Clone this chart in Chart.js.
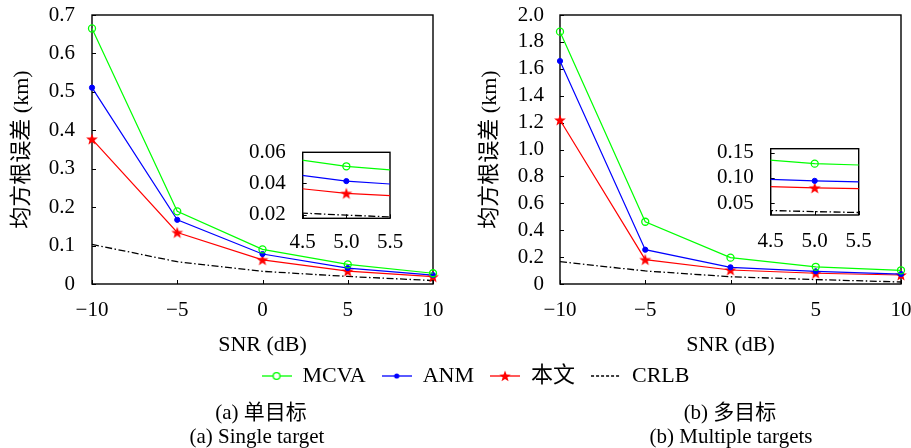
<!DOCTYPE html>
<html><head><meta charset="utf-8">
<script src="https://cdn.jsdelivr.net/npm/chart.js@4.4.1/dist/chart.umd.min.js"></script>
<style>
html,body{margin:0;padding:0;background:#fff;}
#wrap{position:relative;width:911px;height:448px;overflow:hidden;background:#fff;font-family:'Liberation Serif','Noto Sans CJK SC',serif;}
canvas{position:absolute;}
.cap{position:absolute;font-size:21px;line-height:24px;white-space:nowrap;transform:translateX(-50%);color:#000;}
</style></head><body>
<div id="wrap">
<canvas id="mainA" width="455" height="360" style="left:0;top:0"></canvas>
<canvas id="mainB" width="456" height="360" style="left:455px;top:0"></canvas>
<canvas id="insetA" width="180" height="115" style="left:240px;top:140px"></canvas>
<canvas id="insetB" width="185" height="120" style="left:705px;top:135px"></canvas>
<canvas id="legend" width="911" height="110" style="left:0;top:330px"></canvas>
<div class="cap" style="left:261px;top:400px">(a) 单目标</div>
<div class="cap" style="left:257px;top:424px">(a) Single target</div>
<div class="cap" style="left:730px;top:400px">(b) 多目标</div>
<div class="cap" style="left:731px;top:424px">(b) Multiple targets</div>
</div>
<script>
// ---- data ----
const snr = [-10, -5, 0, 5, 10];
const seriesNames = ['MCVA', 'ANM', '本文', 'CRLB'];
const singleMCVA = [0.665, 0.189, 0.090, 0.051, 0.028];
const singleANM  = [0.511, 0.167, 0.078, 0.0415, 0.023];
const singleOurs = [0.377, 0.134, 0.063, 0.0336, 0.019];
const singleCRLB = [0.103, 0.058, 0.033, 0.0196, 0.009];
const multiMCVA = [1.876, 0.463, 0.196, 0.128, 0.102];
const multiANM  = [1.658, 0.255, 0.124, 0.094, 0.074];
const multiOurs = [1.219, 0.181, 0.104, 0.080, 0.067];
const multiCRLB = [0.166, 0.097, 0.054, 0.033, 0.015];
const xTickValues = [-10, -5, 0, 5, 10];
const xTickLabels = ['\u221210', '\u22125', '0', '5', '10'];
const singleYTicks = [0, 0.1, 0.2, 0.3, 0.4, 0.5, 0.6, 0.7];
const singleYLabels = ['0', '0.1', '0.2', '0.3', '0.4', '0.5', '0.6', '0.7'];
const multiYTicks = [0, 0.2, 0.4, 0.6, 0.8, 1.0, 1.2, 1.4, 1.6, 1.8, 2.0];
const multiYLabels = ['0', '0.2', '0.4', '0.6', '0.8', '1.0', '1.2', '1.4', '1.6', '1.8', '2.0'];
const insetXTicks = [4.5, 5.0, 5.5];
const insetXLabels = ['4.5', '5.0', '5.5'];
const insetSingleYTicks = [0.02, 0.04, 0.06];
const insetSingleYLabels = ['0.02', '0.04', '0.06'];
const insetMultiYTicks = [0.05, 0.10, 0.15];
const insetMultiYLabels = ['0.05', '0.10', '0.15'];

// ---- styles ----
const GREEN = '#00ff00', BLUE = '#0000ff', RED = '#ff0000', BLACK = '#000000';
const FONT = "'Liberation Serif','Noto Sans CJK SC',serif";
Chart.defaults.font.family = FONT;
Chart.defaults.font.size = 21;
Chart.defaults.color = '#000';

function starPath(ctx, cx, cy, ro, ri) {
  ctx.beginPath();
  for (let k = 0; k < 10; k++) {
    const r = k % 2 === 0 ? ro : ri;
    const a = -Math.PI / 2 + k * Math.PI / 5;
    const px = cx + r * Math.cos(a), py = cy + r * Math.sin(a);
    if (k === 0) ctx.moveTo(px, py); else ctx.lineTo(px, py);
  }
  ctx.closePath();
}
const starImg = document.createElement('canvas');
starImg.width = 14; starImg.height = 14;
(function () { const c = starImg.getContext('2d'); c.fillStyle = RED; starPath(c, 7, 7.5, 6.2, 2.6); c.fill(); })();

function legendIcon(i) {
  const cv = document.createElement('canvas');
  cv.width = 30; cv.height = 14;
  const c = cv.getContext('2d');
  c.lineWidth = 1.3;
  if (i === 3) { c.strokeStyle = BLACK; c.setLineDash([3, 2]); }
  else c.strokeStyle = [GREEN, BLUE, RED][i];
  c.beginPath(); c.moveTo(0, 7); c.lineTo(30, 7); c.stroke();
  c.setLineDash([]);
  if (i === 0) { c.fillStyle = '#fff'; c.beginPath(); c.arc(15, 7, 3.4, 0, Math.PI * 2); c.fill(); c.stroke(); }
  if (i === 1) { c.fillStyle = BLUE; c.beginPath(); c.arc(15, 7, 2.6, 0, Math.PI * 2); c.fill(); }
  if (i === 2) { c.fillStyle = RED; starPath(c, 15, 7.5, 6, 2.5); c.fill(); }
  return cv;
}
const legendIcons = [0, 1, 2, 3].map(legendIcon);

function pts(ys) { return snr.map((x, i) => ({ x: x, y: ys[i] })); }
function makeDatasets(m, a, o, c, clip) {
  return [
    { label: seriesNames[0], data: pts(m), borderColor: GREEN, borderWidth: 1.2, pointStyle: 'circle', pointRadius: 3.5,
      pointBorderWidth: 1.3, pointBorderColor: GREEN, pointBackgroundColor: 'rgba(255,255,255,0)', clip: clip },
    { label: seriesNames[1], data: pts(a), borderColor: BLUE, borderWidth: 1.2, pointStyle: 'circle', pointRadius: 2.6,
      pointBorderWidth: 1, pointBorderColor: BLUE, pointBackgroundColor: BLUE, clip: clip },
    { label: seriesNames[2], data: pts(o), borderColor: RED, borderWidth: 1.2, pointStyle: starImg, pointRadius: 6, clip: clip },
    { label: seriesNames[3], data: pts(c), borderColor: BLACK, borderWidth: 1.3, borderDash: [7, 2.5, 1.5, 2.5], pointRadius: 0, clip: clip }
  ];
}

const framePlugin = {
  id: 'frame',
  beforeDatasetsDraw(chart) {
    const { ctx, chartArea: { left, right, top, bottom }, scales: { x, y } } = chart;
    ctx.save();
    ctx.strokeStyle = '#000'; ctx.lineWidth = 1;
    ctx.beginPath();
    x.ticks.forEach(t => { const px = Math.round(x.getPixelForValue(t.value)) + 0.5; ctx.moveTo(px, bottom); ctx.lineTo(px, bottom - 4); });
    y.ticks.forEach(t => { const py = Math.round(y.getPixelForValue(t.value)) + 0.5; ctx.moveTo(left, py); ctx.lineTo(left + 4, py); });
    ctx.stroke();
    ctx.lineWidth = 1.4;
    ctx.strokeRect(left, top, right - left, bottom - top);
    ctx.restore();
  }
};

function zeroPad(s) { s.paddingLeft = 0; s.paddingRight = 0; s.paddingTop = 0; s.paddingBottom = 0; }
const noGrid = { display: false, drawTicks: false, tickLength: 0 };

function makeMain(id, ds, yMax, yTicks, yLabels, cfg) {
  new Chart(document.getElementById(id), {
    type: 'line',
    data: { datasets: ds },
    options: {
      responsive: false, animation: false, devicePixelRatio: 1,
      layout: { padding: { left: 0, right: cfg.padRight, top: 15, bottom: 0 } },
      plugins: { legend: { display: false }, tooltip: { enabled: false } },
      scales: {
        x: {
          type: 'linear', min: -10, max: 10,
          grid: noGrid, border: { display: false },
          afterBuildTicks: s => { s.ticks = xTickValues.map(v => ({ value: v })); },
          afterFit: s => { s.height = 76; zeroPad(s); },
          ticks: { padding: 14, maxRotation: 0, autoSkip: false, callback: (v, i) => xTickLabels[i] },
          title: { display: true, text: 'SNR (dB)', font: { size: 22 }, padding: { top: 0, bottom: 2 } }
        },
        y: {
          type: 'linear', min: 0, max: yMax,
          grid: noGrid, border: { display: false },
          afterBuildTicks: s => { s.ticks = yTicks.map(v => ({ value: v })); },
          afterFit: s => { s.width = cfg.yWidth; zeroPad(s); },
          ticks: { padding: cfg.yPad, autoSkip: false, callback: (v, i) => yLabels[i] },
          title: { display: true, text: '均方根误差 (km)', font: { size: 22 }, padding: { top: cfg.titlePad, bottom: 0 } }
        }
      }
    },
    plugins: [framePlugin]
  });
}

function makeInset(id, ds, yMin, yMax, yTicks, yLabels, cfg) {
  new Chart(document.getElementById(id), {
    type: 'line',
    data: { datasets: ds },
    options: {
      responsive: false, animation: false, devicePixelRatio: 1,
      layout: { padding: { left: 0, right: cfg.padRight, top: cfg.padTop, bottom: 0 } },
      plugins: { legend: { display: false }, tooltip: { enabled: false } },
      scales: {
        x: {
          type: 'linear', min: 4.5, max: 5.5,
          grid: noGrid, border: { display: false },
          afterBuildTicks: s => { s.ticks = insetXTicks.map(v => ({ value: v })); },
          afterFit: s => { s.height = cfg.xHeight; zeroPad(s); },
          ticks: { padding: cfg.xPad, maxRotation: 0, autoSkip: false, callback: (v, i) => insetXLabels[i] }
        },
        y: {
          type: 'linear', min: yMin, max: yMax,
          grid: noGrid, border: { display: false },
          afterBuildTicks: s => { s.ticks = yTicks.map(v => ({ value: v })); },
          afterFit: s => { s.width = cfg.yWidth; zeroPad(s); },
          ticks: { padding: 17, autoSkip: false, callback: (v, i) => yLabels[i] }
        }
      }
    },
    plugins: [framePlugin]
  });
}

makeMain('mainA', makeDatasets(singleMCVA, singleANM, singleOurs, singleCRLB, false), 0.7, singleYTicks, singleYLabels,
  { padRight: 22, yWidth: 92, yPad: 17, titlePad: 9 });
makeMain('mainB', makeDatasets(multiMCVA, multiANM, multiOurs, multiCRLB, false), 2.0, multiYTicks, multiYLabels,
  { padRight: 10, yWidth: 105, yPad: 16, titlePad: 22 });

makeInset('insetA', makeDatasets(singleMCVA, singleANM, singleOurs, singleCRLB, true), 0.0176, 0.06, insetSingleYTicks, insetSingleYLabels,
  { padRight: 30, padTop: 12.3, xHeight: 36.7, yWidth: 62.7, xPad: 12 });
makeInset('insetB', makeDatasets(multiMCVA, multiANM, multiOurs, multiCRLB, true), 0.0263, 0.1577, insetMultiYTicks, insetMultiYLabels,
  { padRight: 31.3, padTop: 13.7, xHeight: 40, yWidth: 65.7, xPad: 14 });

new Chart(document.getElementById('legend'), {
  type: 'line',
  data: { datasets: seriesNames.map(n => ({ label: n, data: [] })) },
  options: {
    responsive: false, animation: false, devicePixelRatio: 1,
    layout: { padding: { left: 40, right: 0, top: 19, bottom: 0 } },
    scales: { x: { display: false }, y: { display: false } },
    plugins: {
      tooltip: { enabled: false },
      legend: {
        position: 'top',
        labels: {
          usePointStyle: true, pointStyleWidth: 30, padding: 16, color: '#000', font: { size: 22 },
          generateLabels: () => seriesNames.map((n, i) => ({
            text: n, pointStyle: legendIcons[i], fillStyle: 'rgba(0,0,0,0)', strokeStyle: 'rgba(0,0,0,0)',
            lineWidth: 0, hidden: false, datasetIndex: i, fontColor: '#000'
          }))
        }
      }
    }
  }
});
</script>
</body></html>
